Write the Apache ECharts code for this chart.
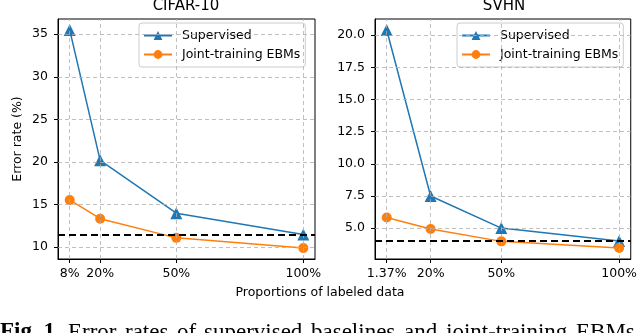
<!DOCTYPE html>
<html>
<head>
<meta charset="utf-8">
<script src="https://cdn.jsdelivr.net/npm/echarts@6/dist/echarts.min.js"></script>
<style>
html,body{margin:0;padding:0;background:#fff;}
#c{width:640px;height:333px;}
</style>
</head>
<body>
<div id="c"></div>
<script>
// CIFAR-10
const cifarX = [8, 20, 50, 100];
const cifarXLabels = ['8%', '20%', '50%', '100%'];
const cifarSupervised = [35.5, 20.2, 14.0, 11.5];
const cifarJoint = [15.55, 13.35, 11.1, 9.9];
const cifarBaseline = 11.45;
const cifarYTicks = [10, 15, 20, 25, 30, 35];
// SVHN
const svhnX = [1.37, 20, 50, 100];
const svhnXLabels = ['1.37%', '20%', '50%', '100%'];
const svhnSupervised = [20.4, 7.5, 5.0, 4.0];
const svhnJoint = [5.83, 4.93, 3.97, 3.45];
const svhnBaseline = 4.04;
const svhnYTicks = [5, 7.5, 10, 12.5, 15, 17.5, 20];

const captionWords = ['Error', 'rates', 'of', 'supervised', 'baselines', 'and', 'joint-training', 'EBMs'];

const FONT = 'DejaVu Sans';
const FS = 12.5;
const BLUE = '#1f77b4', ORANGE = '#ff7f0e';

function pairs(xs, ys) { return xs.map((x, i) => [x, ys[i]]); }

function xAxis(gi, min, max, ticks, labels) {
  return {
    type: 'value', gridIndex: gi, min: min, max: max,
    axisLine: { show: true, onZero: false, lineStyle: { color: '#000', width: 1 } },
    axisTick: { show: true, customValues: ticks, length: 4, lineStyle: { color: '#000' } },
    axisLabel: { customValues: ticks, margin: 8, color: '#000', fontFamily: FONT, fontSize: FS,
      formatter: v => { const i = ticks.findIndex(t => Math.abs(t - v) < 1e-6); return i >= 0 ? labels[i] : ''; } },
    splitLine: { show: false }
  };
}
function yAxis(gi, min, max, ticks, fmt, name) {
  return {
    type: 'value', gridIndex: gi, min: min, max: max,
    name: name || '', nameLocation: 'middle', nameGap: 34, nameRotate: 90,
    nameTextStyle: { color: '#000', fontFamily: FONT, fontSize: FS },
    axisLine: { show: true, onZero: false, lineStyle: { color: '#000', width: 1 } },
    axisTick: { show: true, customValues: ticks, length: 4, lineStyle: { color: '#000' } },
    axisLabel: { customValues: ticks, margin: 10, color: '#000', fontFamily: FONT, fontSize: FS, formatter: fmt },
    splitLine: { show: false }
  };
}
const gridLine = { color: '#b0b0b0', width: 0.8, type: [4, 3] };
function gridSeries(gi, xt, yt) {
  return {
    type: 'line', xAxisIndex: gi, yAxisIndex: gi, data: [], silent: true, z: 1,
    markLine: { silent: true, symbol: 'none', label: { show: false }, animation: false,
      lineStyle: gridLine,
      data: xt.map(v => ({ xAxis: v })).concat(yt.map(v => ({ yAxis: v }))) }
  };
}
function baseSeries(gi, val) {
  return {
    type: 'line', xAxisIndex: gi, yAxisIndex: gi, data: [], silent: true, z: 5,
    markLine: { silent: true, symbol: 'none', label: { show: false }, animation: false,
      lineStyle: { color: '#000', width: 2, type: [7, 4] },
      data: [{ yAxis: val }] }
  };
}
function dataSeries(gi, name, xs, ys, color, sym, size) {
  return {
    name: name, type: 'line', xAxisIndex: gi, yAxisIndex: gi, data: pairs(xs, ys),
    symbol: sym, symbolSize: size, showSymbol: true, z: 3,
    lineStyle: { color: color, width: 1.5 }, itemStyle: { color: color, borderWidth: 0 },
    animation: false
  };
}
function legend(left) {
  return {
    data: ['Supervised', 'Joint-training EBMs'], orient: 'vertical', left: left, top: 23,
    itemWidth: 28, itemHeight: 11, itemGap: 6,
    padding: [6, 5, 6, 4],
    backgroundColor: 'rgba(255,255,255,0.8)', borderColor: '#cccccc', borderWidth: 1, borderRadius: 3,
    textStyle: { color: '#000', fontFamily: FONT, fontSize: FS, padding: [0, 0, 0, 5] },
    selectedMode: false
  };
}

const captionGraphics = [];
captionGraphics.push({ type: 'text', left: 0, top: 321, style: { text: 'Fig. 1.', fontFamily: 'Liberation Serif', fontWeight: 'bold', fontSize: 23, fill: '#000' } });
const wordX = [68, 125, 177, 204, 311, 404, 446, 576];
captionWords.forEach((w, i) => captionGraphics.push({ type: 'text', left: wordX[i], top: 321, style: { text: w, fontFamily: 'Liberation Serif', fontSize: 23, fill: '#000' } }));

const chart = echarts.init(document.getElementById('c'), null, { renderer: 'canvas' });
chart.setOption({
  backgroundColor: '#fff',
  animation: false,
  title: [
    { text: 'CIFAR-10', left: 186, top: -1, textAlign: 'center', padding: 0, textStyle: { fontFamily: FONT, fontSize: 15, fontWeight: 'normal', color: '#000' } },
    { text: 'SVHN', left: 504, top: -1, textAlign: 'center', padding: 0, textStyle: { fontFamily: FONT, fontSize: 15, fontWeight: 'normal', color: '#000' } }
  ],
  grid: [
    { left: 58, top: 19, width: 257, height: 240, show: true, borderColor: '#000', borderWidth: 1, backgroundColor: 'transparent' },
    { left: 375, top: 19, width: 258, height: 240, show: true, borderColor: '#000', borderWidth: 1, backgroundColor: 'transparent' }
  ],
  xAxis: [
    xAxis(0, 3.4, 104.6, cifarX, cifarXLabels),
    xAxis(1, -3.6, 104.93, svhnX, svhnXLabels)
  ],
  yAxis: [
    yAxis(0, 8.62, 36.78, cifarYTicks, v => String(v), 'Error rate (%)'),
    yAxis(1, 2.6, 21.25, svhnYTicks, v => v.toFixed(1))
  ],
  legend: [legend(139), legend(457)],
  series: [
    gridSeries(0, cifarX, cifarYTicks),
    gridSeries(1, svhnX, svhnYTicks),
    dataSeries(0, 'Supervised', cifarX, cifarSupervised, BLUE, 'triangle', 12),
    dataSeries(0, 'Joint-training EBMs', cifarX, cifarJoint, ORANGE, 'circle', 10),
    dataSeries(1, 'Supervised', svhnX, svhnSupervised, BLUE, 'triangle', 12),
    dataSeries(1, 'Joint-training EBMs', svhnX, svhnJoint, ORANGE, 'circle', 10),
    baseSeries(0, cifarBaseline),
    baseSeries(1, svhnBaseline)
  ],
  graphic: [
    { type: 'text', left: 'center', top: 286, style: { text: 'Proportions of labeled data', fontFamily: FONT, fontSize: FS, fill: '#000' } }
  ].concat(captionGraphics)
});
</script>
</body>
</html>
